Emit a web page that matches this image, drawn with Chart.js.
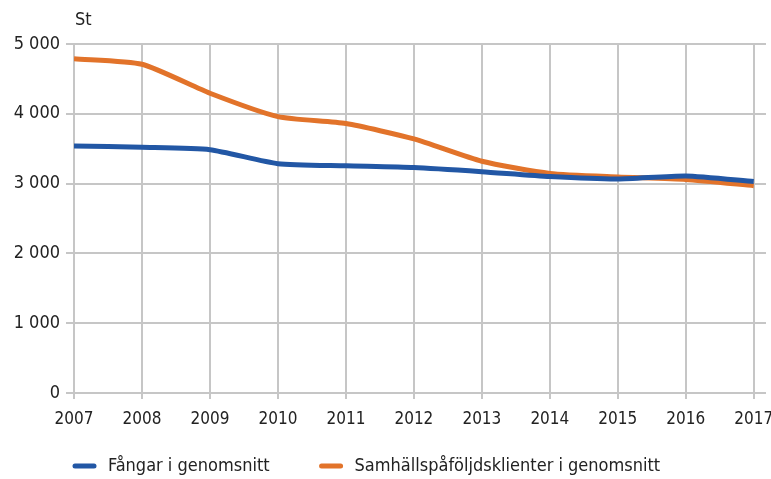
<!DOCTYPE html>
<html>
<head>
<meta charset="utf-8">
<script src="https://cdn.jsdelivr.net/npm/chart.js@4/dist/chart.umd.min.js"></script>
<style>
  html, body { margin: 0; padding: 0; background: #fff; }
  #wrap { width: 771px; height: 479px; }
</style>
</head>
<body>
<div id="wrap"><canvas id="lineChart"></canvas></div>
<script>
// Fångar och samhällspåföljdsklienter
var years = [2007, 2008, 2009, 2010, 2011, 2012, 2013, 2014, 2015, 2016, 2017];
var fangar = [3540, 3520, 3485, 3285, 3255, 3230, 3170, 3100, 3065, 3110, 3030];
var klienter = [4790, 4710, 4295, 3960, 3860, 3640, 3320, 3145, 3095, 3060, 2970];
var yTicks = [0, 1000, 2000, 3000, 4000, 5000];

var font = "'DejaVu Sans Condensed', 'Liberation Sans Narrow', sans-serif";
var gridColor = '#c6c6c6';

function pts(arr) {
    return years.map(function (y, i) { return { x: y, y: arr[i] }; });
}

function fmt(v) {
    return String(v).replace(/\B(?=(\d{3})+$)/g, ' ');
}

// "St" ovanför y-axeln + egen legend längst ner
var extras = {
    id: 'extras',
    afterDraw: function (chart) {
        var ctx = chart.ctx;
        var ya = chart.scales.y;
        ctx.save();
        ctx.font = '18px ' + font;
        ctx.fillStyle = '#222';
        ctx.textAlign = 'left';
        ctx.textBaseline = 'middle';
        ctx.fillText('St', chart.chartArea.left + 1, ya.top - 24);

        var x = chart.chartArea.left + 1;
        var y = 466;
        chart.data.datasets.forEach(function (ds) {
            ctx.strokeStyle = ds.borderColor;
            ctx.lineWidth = 5;
            ctx.lineCap = 'round';
            ctx.beginPath();
            ctx.moveTo(x, y);
            ctx.lineTo(x + 19, y);
            ctx.stroke();
            ctx.fillStyle = '#222';
            ctx.fillText(ds.label, x + 33, y);
            x += 33 + ctx.measureText(ds.label).width + 52;
        });
        ctx.restore();
    }
};

var lineData = {
    datasets: [{
        label: 'Fångar i genomsnitt',
        data: pts(fangar),
        borderColor: '#2257a5',
        backgroundColor: '#2257a5',
        borderWidth: 5,
        pointRadius: 0,
        tension: 0.2
    }, {
        label: 'Samhällspåföljdsklienter i genomsnitt',
        data: pts(klienter),
        borderColor: '#e2732a',
        backgroundColor: '#e2732a',
        borderWidth: 5,
        pointRadius: 0,
        tension: 0.2
    }]
};

var lineConfig = {
    type: 'line',
    data: lineData,
    plugins: [extras],
    options: {
        responsive: true,
        maintainAspectRatio: false,
        animation: false,
        layout: { padding: { top: 44, right: 5, left: 0, bottom: 44 } },
        scales: {
            x: {
                type: 'linear',
                min: 2007,
                max: 2017.18,
                afterBuildTicks: function (axis) {
                    axis.ticks = years.map(function (y) { return { value: y }; });
                },
                afterFit: function (axis) {
                    axis.height = 42;
                    axis.paddingRight = 0;
                },
                grid: { color: gridColor, lineWidth: 2, tickLength: 6 },
                border: { display: false },
                ticks: {
                    color: '#222',
                    font: { family: font, size: 17 },
                    padding: 10,
                    maxRotation: 0,
                    autoSkip: false,
                    callback: function (v) { return String(v); }
                }
            },
            y: {
                min: 0,
                max: 5000,
                afterBuildTicks: function (axis) {
                    axis.ticks = yTicks.map(function (v) { return { value: v }; });
                },
                afterFit: function (axis) { axis.width = 74; },
                grid: { color: gridColor, lineWidth: 2, tickLength: 8 },
                border: { display: false },
                ticks: {
                    color: '#222',
                    font: { family: font, size: 18 },
                    padding: 6,
                    callback: function (v) { return fmt(v); }
                }
            }
        },
        plugins: {
            tooltip: { enabled: false },
            legend: { display: false }
        }
    }
};

var lineChart = new Chart(
    document.getElementById('lineChart'),
    lineConfig
);
</script>
</body>
</html>
